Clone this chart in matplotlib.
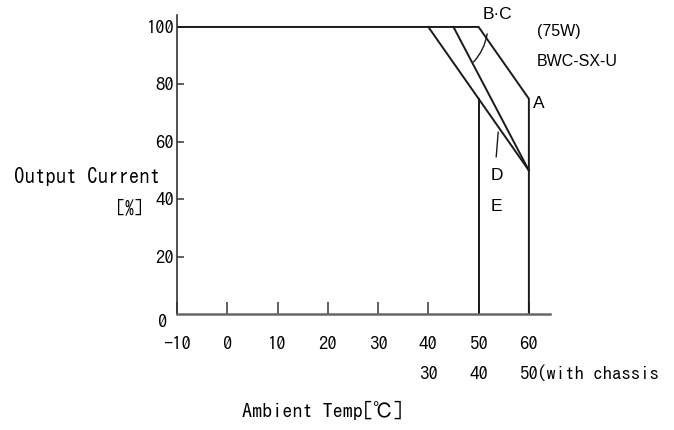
import matplotlib
matplotlib.use('Agg')
import matplotlib.pyplot as plt
import matplotlib.transforms as mtransforms

# derating curves (ambient temp degC, output current %)
curve_a_x = [-10, 50, 60, 60]
curve_a_y = [100, 100, 75, 0]
curve_bc_x = [45, 60]
curve_bc_y = [100, 50]
curve_de_x = [40, 60]
curve_de_y = [100, 50]
limit_50_x = [50, 50]
limit_50_y = [75, 0]

x_ticks = [-10, 0, 10, 20, 30, 40, 50, 60]
y_ticks = [20, 40, 60, 80, 100]
chassis_pos = [40, 50, 60]
chassis_labels = ['30', '40', '50']

gothic = ['IPAGothic', 'Noto Sans CJK JP', 'DejaVu Sans']
arial = ['Liberation Sans', 'DejaVu Sans']
tick_fs = 13.5

fig = plt.figure(figsize=(6.74, 4.3), dpi=100)
ax = fig.add_axes([0.2626, 0.2698, 0.5534, 0.6942])

line_kw = dict(color='#1a1a1a', lw=1.4, solid_joinstyle='miter')
ax.plot(curve_a_x, curve_a_y, **line_kw)
ax.plot(curve_bc_x, curve_bc_y, **line_kw)
ax.plot(curve_de_x, curve_de_y, **line_kw)
ax.plot(limit_50_x, limit_50_y, **line_kw)

ax.set_xlim(-10, 64.2)
ax.set_ylim(0, 104)
for s in ['top', 'right']:
    ax.spines[s].set_visible(False)
ax.spines['left'].set_color('#333333')
ax.spines['left'].set_linewidth(1.2)
ax.spines['bottom'].set_color('#666666')
ax.spines['bottom'].set_linewidth(1.8)

ax.set_xticks(x_ticks)
ax.set_xticklabels([str(t) for t in x_ticks], family=gothic, fontsize=tick_fs)
ax.set_yticks(y_ticks)
ax.set_yticklabels([str(t) for t in y_ticks], family=gothic, fontsize=tick_fs)
ax.tick_params(axis='x', direction='in', length=9, width=1.2, color='#444444', pad=15.5)
ax.tick_params(axis='y', direction='in', length=5, width=1.2, color='#444444', pad=2)

# lone zero at the origin
ax.annotate('0', xy=(-10, 0), xytext=(-14, -8), textcoords='offset pixels',
            ha='center', va='center', family=gothic, fontsize=tick_fs, annotation_clip=False)

# second temperature row (with chassis)
row2 = mtransforms.blended_transform_factory(ax.transData, ax.transAxes)
for p, lab in zip(chassis_pos, chassis_labels):
    ax.annotate(lab, xy=(p, 0), xycoords=row2, xytext=(0, -60), textcoords='offset pixels',
                ha='center', va='center', family=gothic, fontsize=tick_fs, annotation_clip=False)
ax.annotate('(with chassis', xy=(60, 0), xycoords=row2, xytext=(8, -60),
            textcoords='offset pixels', ha='left', va='center', family=gothic,
            fontsize=tick_fs, annotation_clip=False)

# curve labels
lab_kw = dict(family=arial, fontsize=12.5, ha='center', va='center', clip_on=False)
ax.text(53.7, 104.2, 'B·C', **lab_kw)
ax.text(61.9, 73.5, 'A', **lab_kw)
ax.text(53.6, 48.4, 'D', **lab_kw)
ax.text(53.6, 37.6, 'E', **lab_kw)
ax.text(61.6, 98.5, '(75W)', family=arial, fontsize=11.5, ha='left', va='center', clip_on=False)
ax.text(61.6, 87.8, 'BWC-SX-U', family=arial, fontsize=11.5, ha='left', va='center', clip_on=False)

leader = dict(arrowstyle='-', color='#1a1a1a', lw=1.0, shrinkA=0, shrinkB=0)
ax.annotate('', xy=(49.0, 87.8), xytext=(51.7, 97.6),
            arrowprops=dict(connectionstyle='arc3,rad=-0.15', **leader))
ax.annotate('', xy=(53.5, 54.7), xytext=(53.9, 63.4), arrowprops=leader)

fig.text(87 / 674, 1 - 177 / 430, 'Output Current', family=gothic, fontsize=15,
         ha='center', va='center')
fig.text(130 / 674, 1 - 207 / 430, '[%]', family=gothic, fontsize=13,
         ha='center', va='center')
fig.text(322 / 674, 1 - 410 / 430, 'Ambient Temp[℃]', family=gothic, fontsize=14.5,
         ha='center', va='center')

fig.savefig('out.png', dpi=100)
